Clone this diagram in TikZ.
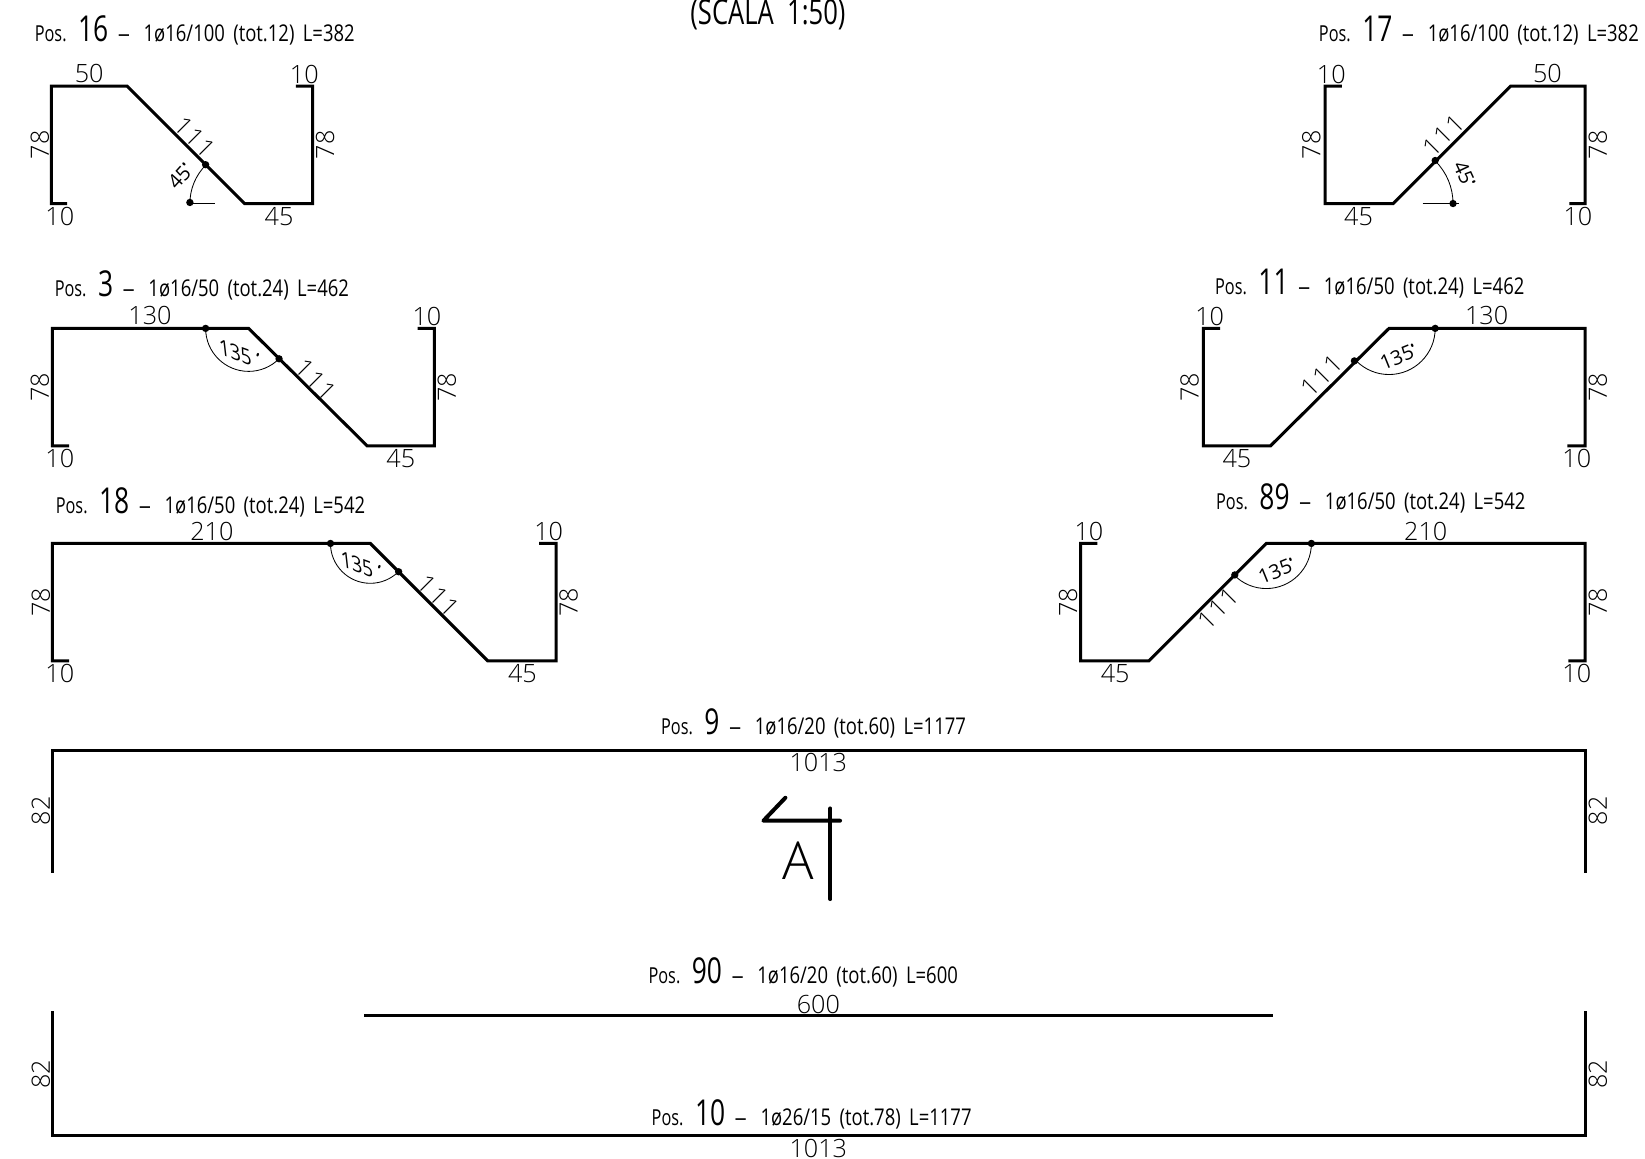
\documentclass[tikz,border=0pt]{standalone}
\usepackage{graphicx}
\usepackage{fontspec}
\setmainfont{Open Sans Light}
\newfontfamily\dimf[FakeStretch=1.0]{Open Sans}
\newfontfamily\dimfl[FakeStretch=1.0]{Open Sans Light}
\newfontfamily\dims[FakeStretch=1.0,FakeSlant=-0.5]{Open Sans}
\newfontfamily\narf[FakeStretch=0.74]{Open Sans}
\newfontfamily\narg[FakeStretch=0.80]{Open Sans}
\newcommand{\dg}{\kern-0.5pt\raisebox{6.5pt}{\fontsize{14}{14}\selectfont\narf•}}
\newcommand{\ooo}{1\kern1.5pt1\kern1.5pt1}
\newcommand{\ptitle}[2]{{\narf\fontsize{21}{22}\selectfont Pos.}\hspace{11pt}{\narf\fontsize{34}{36}\selectfont #1}\hspace{9pt}{\narf\fontsize{21}{22}\selectfont\scalebox{1.5}[1]{–}}\hspace{13pt}{\narg\fontsize{22}{23}\selectfont\spaceskip=8pt #2}}
\tikzset{
  bar/.style={line width=2.9pt,line join=miter,line cap=butt,black},
  thinl/.style={line width=0.8pt,black},
  pt/.style={circle,fill=black,minimum size=7pt,inner sep=0pt},
  dimv/.style={font=\dimfl\fontsize{24}{26}\selectfont,inner sep=0pt},
  dimr/.style={dimv,rotate=90},
  diag/.style={font=\dimfl\fontsize{24}{26}\selectfont,inner sep=0pt},
  ang/.style={font=\dimf\fontsize{19}{21}\selectfont,inner sep=0pt},
  angs/.style={font=\dims\fontsize{19}{21}\selectfont,inner sep=0pt},
  ttl/.style={anchor=west,inner sep=0pt}
}
\begin{document}
\begin{tikzpicture}[x=1pt,y=-1pt]
\useasboundingbox (0,0) rectangle (1568,1104.7);
% title
\node[inner sep=0pt,font=\narf\fontsize{33}{35}\selectfont] (scala) at (732,14) {(SCALA\ \ 1:50)};
% Pos 16
\node[ttl] (t16) at (33,29) {\ptitle{16}{1ø16/100 (tot.12) L=382}};
\draw[bar] (64,194) -- (49,194) -- (49,82) -- (121,82) -- (233,194) -- (298,194) -- (298,82) -- (282,82);
\draw[thinl] (181,193.5) -- (205,193.5);
\draw[thinl] (181,194) arc[start angle=180,end angle=225,radius=52];
\node[pt] (a16) at (181,193) {}; \node[pt] (b16) at (196,157) {};
\node[dimv] (l16a) at (85,70) {50};
\node[dimv] (l16b) at (290,71) {10};
\node[dimr] (l16c) at (38,138) {78};
\node[dimr] (l16d) at (310,138) {78};
\node[diag,rotate=-45] (l16e) at (186,131) {\ooo};
\node[ang,rotate=48] (l16f) at (172,168) {45\dg};
\node[dimv] (l16g) at (266,206) {45};
\node[dimv] (l16h) at (57,206) {10};
% Pos 17
\node[ttl] (t17) at (1257,29) {\ptitle{17}{1ø16/100 (tot.12) L=382}};
\draw[bar] (1496,194) -- (1511,194) -- (1511,82) -- (1440,82) -- (1328,194) -- (1263,194) -- (1263,82) -- (1279,82);
\draw[thinl] (1356,193.5) -- (1391,193.5);
\draw[thinl] (1385,194) arc[start angle=0,end angle=-45,radius=57];
\node[pt] (a17) at (1385,194) {}; \node[pt] (b17) at (1368,153) {};
\node[dimv] (l17a) at (1475,70) {50};
\node[dimv] (l17b) at (1269,71) {10};
\node[dimr] (l17c) at (1250,138) {78};
\node[dimr] (l17d) at (1523,138) {78};
\node[diag,rotate=45] (l17e) at (1376,129) {\ooo};
\node[ang,rotate=-65] (l17f) at (1396,166) {45\dg};
\node[dimv] (l17g) at (1295,206) {45};
\node[dimv] (l17h) at (1504,206) {10};
% Pos 3
\node[ttl] (t3) at (52,272) {\ptitle{3}{1ø16/50 (tot.24) L=462}};
\draw[bar] (66,425) -- (50,425) -- (50,313) -- (237,313) -- (350,425) -- (414,425) -- (414,313) -- (398,313);
\draw[thinl] (196,313) arc[start angle=180,end angle=45,radius=41];
\node[pt] (a3) at (196,313) {}; \node[pt] (b3) at (266,342) {};
\node[dimv] (l3a) at (143,301) {130};
\node[dimv] (l3b) at (407,302) {10};
\node[dimr] (l3c) at (38,369) {78};
\node[dimr] (l3d) at (426,369) {78};
\node[diag,rotate=-45] (l3e) at (301,362) {\ooo};
\node[angs,rotate=-20] (l3f) at (229,338) {135\dg};
\node[dimv] (l3g) at (382,437) {45};
\node[dimv] (l3h) at (57,437) {10};
% Pos 11
\node[ttl] (t11) at (1158,270) {\ptitle{11}{1ø16/50 (tot.24) L=462}};
\draw[bar] (1494,425) -- (1511,425) -- (1511,313) -- (1324,313) -- (1211,425) -- (1147,425) -- (1147,313) -- (1163,313);
\draw[thinl] (1368,313) arc[start angle=0,end angle=135,radius=44];
\node[pt] (a11) at (1368,313) {}; \node[pt] (b11) at (1291,344) {};
\node[dimv] (l11a) at (1417,301) {130};
\node[dimv] (l11b) at (1153,302) {10};
\node[dimr] (l11c) at (1134,369) {78};
\node[dimr] (l11d) at (1523,369) {78};
\node[diag,rotate=45] (l11e) at (1260,358) {\ooo};
\node[ang,rotate=22] (l11f) at (1333,340) {135\dg};
\node[dimv] (l11g) at (1179,437) {45};
\node[dimv] (l11h) at (1503,437) {10};
% Pos 18
\node[ttl] (t18) at (53,479) {\ptitle{18}{1ø16/50 (tot.24) L=542}};
\draw[bar] (66,630) -- (50,630) -- (50,518) -- (353,518) -- (465,630) -- (530,630) -- (530,518) -- (514,518);
\draw[thinl] (315,518) arc[start angle=180,end angle=45,radius=38];
\node[pt] (a18) at (315,518) {}; \node[pt] (b18) at (380,545) {};
\node[dimv] (l18a) at (202,507) {210};
\node[dimv] (l18b) at (523,507) {10};
\node[dimr] (l18c) at (39,574) {78};
\node[dimr] (l18d) at (542,574) {78};
\node[diag,rotate=-45] (l18e) at (418,568) {\ooo};
\node[angs,rotate=-20] (l18f) at (345,540) {135\dg};
\node[dimv] (l18g) at (498,642) {45};
\node[dimv] (l18h) at (57,642) {10};
% Pos 89
\node[ttl] (t89) at (1159,475) {\ptitle{89}{1ø16/50 (tot.24) L=542}};
\draw[bar] (1495,630) -- (1511,630) -- (1511,518) -- (1207,518) -- (1095,630) -- (1030,630) -- (1030,518) -- (1046,518);
\draw[thinl] (1250,518) arc[start angle=0,end angle=135,radius=43];
\node[pt] (a89) at (1250,518) {}; \node[pt] (b89) at (1177,548) {};
\node[dimv] (l89a) at (1359,507) {210};
\node[dimv] (l89b) at (1038,507) {10};
\node[dimr] (l89c) at (1018,574) {78};
\node[dimr] (l89d) at (1523,574) {78};
\node[diag,rotate=45] (l89e) at (1161,580) {\ooo};
\node[ang,rotate=22] (l89f) at (1217,544) {135\dg};
\node[dimv] (l89g) at (1063,642) {45};
\node[dimv] (l89h) at (1503,642) {10};
% Pos 9
\node[ttl] (t9) at (630,690) {\ptitle{9}{1ø16/20 (tot.60) L=1177}};
\draw[bar] (50,832) -- (50,715) -- (1511,715) -- (1511,832);
\node[dimv] (l9a) at (780,727) {1013};
\node[dimr] (l9b) at (39,773) {82};
\node[dimr] (l9c) at (1523,773) {82};
% section mark
\draw[line width=3.8pt,line cap=round,line join=round] (748.6,760.4) -- (727.7,782.3) -- (800.7,782.3);
\draw[line width=3.8pt,line cap=round] (791.6,770.6) -- (791.6,857);
\node[inner sep=0pt,font=\dimfl\fontsize{50}{52}\selectfont] (sec) at (761,820) {A};
% Pos 90
\node[ttl] (t90) at (618,927) {\ptitle{90}{1ø16/20 (tot.60) L=600}};
\draw[bar] (347,968) -- (1213,968);
\node[dimv] (l90a) at (780,957) {600};
% Pos 10
\node[ttl] (t10) at (621,1062) {\ptitle{10}{1ø26/15 (tot.78) L=1177}};
\draw[bar] (50,964) -- (50,1082) -- (1511,1082) -- (1511,964);
\node[dimv] (l10a) at (780,1095) {1013};
\node[dimr] (l10b) at (39,1024) {82};
\node[dimr] (l10c) at (1523,1024) {82};
\end{tikzpicture}
\end{document}
